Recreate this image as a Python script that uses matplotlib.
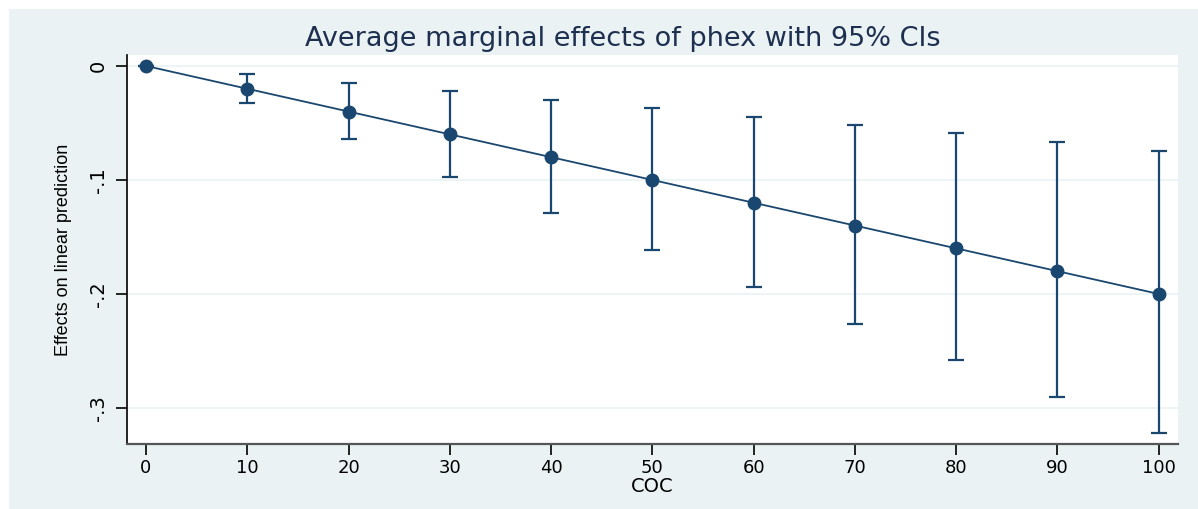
import matplotlib.pyplot as plt
import numpy as np

coc = [0, 10, 20, 30, 40, 50, 60, 70, 80, 90, 100]
effect = [0.0, -0.02, -0.04, -0.06, -0.08, -0.10, -0.12, -0.14, -0.16, -0.18, -0.20]
ci_upper = [0.0, -0.007, -0.015, -0.022, -0.030, -0.037, -0.045, -0.052, -0.059, -0.067, -0.075]
ci_lower = [0.0, -0.0325, -0.064, -0.097, -0.129, -0.161, -0.194, -0.226, -0.258, -0.290, -0.322]

navy = "#1a476f"
bg = "#eaf2f3"
wide = ["DejaVu Sans"]

fig = plt.figure(figsize=(11.98, 5.09), dpi=100)
fig.patch.set_facecolor("white")
fig.add_artist(plt.Rectangle((9 / 1198, 0), 1, 1 - 9 / 509, transform=fig.transFigure,
                             facecolor=bg, edgecolor="none", zorder=0))

ax = fig.add_axes([127 / 1198, 1 - 444 / 509, (1178 - 127) / 1198, (444 - 55) / 509])
ax.set_facecolor("white")

eff = np.array(effect)
yerr = [eff - np.array(ci_lower), np.array(ci_upper) - eff]
ax.errorbar(coc, effect, yerr=yerr, fmt="none", ecolor=navy, elinewidth=1.6,
            capsize=5.5, capthick=1.6, zorder=3)
ax.plot(coc, effect, color=navy, lw=1.3, marker="o", ms=9, zorder=4)

ax.set_xlim(-1.875, 101.9)
ax.set_ylim(-0.3316, 0.0096)
ax.set_xticks(coc)
ax.set_yticks([0, -0.1, -0.2, -0.3])
ax.set_yticklabels(["0", "-.1", "-.2", "-.3"], rotation=90, va="center")
ax.grid(axis="y", color=bg, lw=1.2)
ax.set_axisbelow(True)

for s in ["top", "right"]:
    ax.spines[s].set_visible(False)
ax.spines["left"].set_color("black")
ax.spines["bottom"].set_color("#555555")
ax.spines["left"].set_linewidth(1.2)
ax.spines["bottom"].set_linewidth(1.6)
ax.tick_params(axis="both", direction="out", length=8, width=1.2, labelsize=14,
               colors="black")
ax.tick_params(axis="y", pad=6)
ax.tick_params(axis="x", pad=3, labelsize=13)

for lab in ax.get_xticklabels() + ax.get_yticklabels():
    lab.set_family(wide)

ax.set_xlabel("COC", fontsize=14, family=wide, labelpad=0)
ax.set_ylabel("Effects on linear prediction", fontsize=13,
              family=["Liberation Sans", "DejaVu Sans"], labelpad=12)
fig.text(0.52, 1 - 39 / 509, "Average marginal effects of phex with 95% CIs", ha="center",
         va="center", fontsize=19.5, color="#1e3050", family=wide)

fig.savefig("out.png", dpi=100)
